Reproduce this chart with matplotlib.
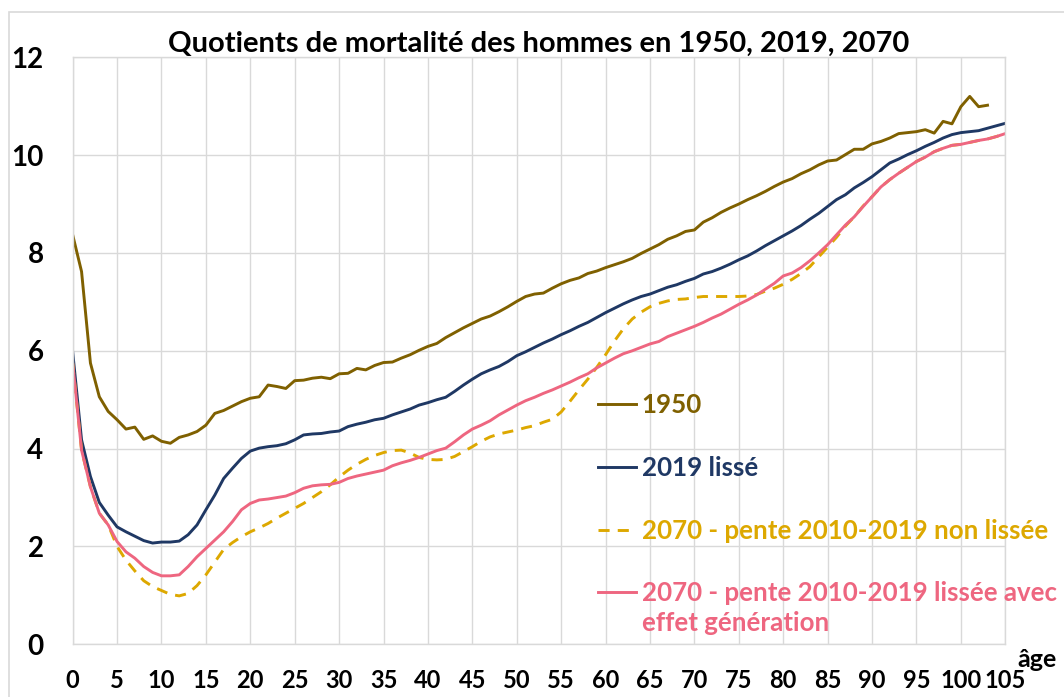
import matplotlib
matplotlib.use("Agg")
import matplotlib.pyplot as plt
from matplotlib.patches import Rectangle

plt.rcParams['font.family'] = ['Lato', 'DejaVu Sans']
plt.rcParams['font.weight'] = 'bold'

# données : quotients de mortalité
ages_1950 = list(range(0, 104))
q_1950 = [8.37, 7.62, 5.75, 5.06, 4.76, 4.59, 4.40, 4.44, 4.19, 4.26,
          4.15, 4.11, 4.23, 4.28, 4.35, 4.48, 4.72, 4.78, 4.87, 4.96,
          5.03, 5.06, 5.30, 5.27, 5.23, 5.39, 5.40, 5.44, 5.46, 5.43,
          5.53, 5.54, 5.64, 5.61, 5.70, 5.76, 5.77, 5.85, 5.92, 6.01,
          6.09, 6.15, 6.27, 6.37, 6.47, 6.56, 6.65, 6.71, 6.80, 6.90,
          7.01, 7.11, 7.16, 7.18, 7.28, 7.37, 7.44, 7.49, 7.58, 7.63,
          7.70, 7.76, 7.82, 7.89, 7.99, 8.08, 8.17, 8.28, 8.35, 8.44,
          8.47, 8.63, 8.72, 8.83, 8.92, 9.00, 9.09, 9.17, 9.26, 9.36,
          9.45, 9.52, 9.62, 9.70, 9.80, 9.88, 9.90, 10.01, 10.12, 10.12,
          10.23, 10.28, 10.35, 10.44, 10.46, 10.48, 10.52, 10.45, 10.69, 10.64,
          10.99, 11.20, 10.99, 11.02]

ages = list(range(0, 106))
q_2019 = [5.98, 4.18, 3.43, 2.90, 2.64, 2.40, 2.30, 2.21, 2.12, 2.07,
          2.09, 2.09, 2.11, 2.24, 2.44, 2.75, 3.05, 3.39, 3.60, 3.80,
          3.95, 4.01, 4.04, 4.06, 4.10, 4.18, 4.28, 4.30, 4.31, 4.34,
          4.36, 4.45, 4.50, 4.54, 4.59, 4.62, 4.69, 4.75, 4.81, 4.89,
          4.94, 5.00, 5.05, 5.17, 5.30, 5.42, 5.53, 5.61, 5.68, 5.78,
          5.90, 5.98, 6.07, 6.16, 6.24, 6.33, 6.41, 6.50, 6.58, 6.68,
          6.78, 6.87, 6.96, 7.04, 7.11, 7.16, 7.23, 7.30, 7.35, 7.42,
          7.48, 7.57, 7.62, 7.69, 7.77, 7.86, 7.94, 8.04, 8.15, 8.25,
          8.35, 8.45, 8.56, 8.69, 8.81, 8.95, 9.09, 9.19, 9.33, 9.44,
          9.56, 9.70, 9.84, 9.92, 10.01, 10.09, 10.18, 10.26, 10.35, 10.42,
          10.46, 10.48, 10.50, 10.55, 10.60, 10.65]

q_2070_brut = [5.75, 3.97, 3.22, 2.68, 2.44, 2.00, 1.72, 1.50, 1.30, 1.18,
               1.10, 1.02, 0.99, 1.04, 1.20, 1.42, 1.68, 1.94, 2.08, 2.20,
               2.30, 2.38, 2.47, 2.58, 2.68, 2.78, 2.88, 3.00, 3.12, 3.26,
               3.42, 3.56, 3.68, 3.78, 3.86, 3.92, 3.96, 3.97, 3.91, 3.82,
               3.78, 3.77, 3.78, 3.84, 3.94, 4.04, 4.15, 4.24, 4.30, 4.34,
               4.38, 4.43, 4.47, 4.54, 4.60, 4.75, 4.97, 5.20, 5.42, 5.66,
               5.92, 6.20, 6.45, 6.65, 6.79, 6.90, 6.97, 7.02, 7.05, 7.06,
               7.09, 7.11, 7.11, 7.11, 7.11, 7.11, 7.12, 7.15, 7.22, 7.28,
               7.36, 7.46, 7.58, 7.72, 7.92, 8.12, 8.32, 8.55, 8.74, 8.96,
               9.15, 9.35, 9.50, 9.63, 9.75, 9.87, 9.96, 10.07, 10.14, 10.20,
               10.22, 10.26, 10.30, 10.33, 10.38, 10.44]

q_2070_lisse = [5.75, 3.97, 3.22, 2.68, 2.44, 2.10, 1.89, 1.76, 1.59, 1.47,
                1.40, 1.40, 1.42, 1.59, 1.79, 1.96, 2.13, 2.30, 2.51, 2.75,
                2.88, 2.95, 2.97, 3.00, 3.03, 3.10, 3.19, 3.24, 3.26, 3.27,
                3.31, 3.39, 3.44, 3.48, 3.52, 3.56, 3.65, 3.71, 3.76, 3.82,
                3.89, 3.96, 4.01, 4.14, 4.28, 4.40, 4.48, 4.57, 4.69, 4.79,
                4.89, 4.98, 5.05, 5.13, 5.20, 5.28, 5.36, 5.45, 5.53, 5.65,
                5.75, 5.85, 5.94, 6.00, 6.07, 6.14, 6.19, 6.29, 6.36, 6.43,
                6.50, 6.58, 6.67, 6.75, 6.85, 6.95, 7.04, 7.14, 7.26, 7.38,
                7.53, 7.59, 7.70, 7.84, 8.00, 8.17, 8.37, 8.57, 8.74, 8.95,
                9.15, 9.35, 9.50, 9.63, 9.75, 9.87, 9.96, 10.07, 10.14, 10.20,
                10.22, 10.26, 10.30, 10.33, 10.38, 10.44]

noms = ['1950', '2019 lissé', '2070 - pente 2010-2019 non lissée',
        '2070 - pente 2010-2019 lissée avec']
suite_nom = 'effet génération'
couleurs = ['#7F6000', '#1F3864', '#DDA800', '#EE6680']

fig = plt.figure(figsize=(10.64, 6.97), dpi=100)
ax = fig.add_axes([0.0683, 0.0756, 0.8765, 0.8422])

# cadre extérieur du graphique
fig.patches.append(Rectangle((0.0085, -0.05), 1.2, 0.9828 + 0.05, transform=fig.transFigure,
                             fill=False, edgecolor='#D9D9D9', linewidth=1.2))

ax.plot(ages_1950, q_1950, color=couleurs[0], lw=2.1, label=noms[0])
ax.plot(ages, q_2019, color=couleurs[1], lw=2.1, label=noms[1])
ax.plot(ages, q_2070_brut, color=couleurs[2], lw=2.1, ls=(0, (3.8, 2.8)), label=noms[2])
ax.plot(ages, q_2070_lisse, color=couleurs[3], lw=2.1, label=noms[3])

ax.set_xlim(0, 105)
ax.set_ylim(0, 12)
ax.set_xticks(range(0, 106, 5))
ax.set_yticks(range(0, 13, 2))
ax.grid(True, color='#D9D9D9', lw=1.0)
ax.set_axisbelow(True)
for s in ax.spines.values():
    s.set_color('#D9D9D9')
    s.set_linewidth(1.0)
ax.tick_params(axis='both', length=0)
ax.tick_params(axis='x', labelsize=17, pad=18)
ax.tick_params(axis='y', labelsize=20, pad=21)

ax.set_title('Quotients de mortalité des hommes en 1950, 2019, 2070',
             fontsize=21, fontweight='bold', pad=3)

leg = ax.legend(loc='upper left', bbox_to_anchor=(0.563, 0.428), frameon=False,
                fontsize=18.6, labelcolor='linecolor', handlelength=1.5,
                handletextpad=0.2, labelspacing=1.5, borderpad=0,
                borderaxespad=0)
# deuxième ligne du dernier libellé, placée sous le texte de la légende
ax.annotate(suite_nom, xy=(0, 0), xycoords=leg.get_texts()[3],
            xytext=(0, -4), textcoords='offset points', ha='left', va='top',
            fontsize=18.6, fontweight='bold', color=couleurs[3], zorder=10)

ax.text(1.0125, -0.0387, 'âge', transform=ax.transAxes, ha='left', va='baseline',
        fontsize=18, fontweight='bold')

fig.savefig('out.png', dpi=100)
